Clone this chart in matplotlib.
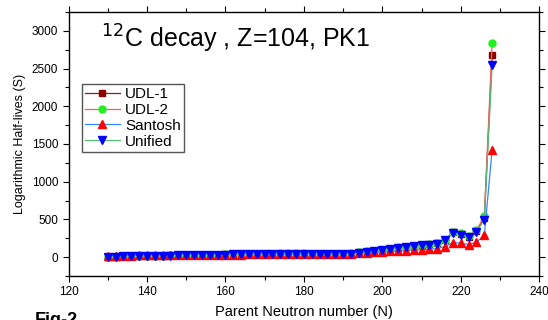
import matplotlib
matplotlib.use("Agg")
import matplotlib.pyplot as plt
from matplotlib.ticker import MultipleLocator

plt.rcParams['font.family'] = ['Liberation Sans', 'DejaVu Sans']

N = list(range(130, 230, 2))
udl1 = [6, 8, 10, 12, 14, 16, 18, 20, 22, 24, 26, 28, 30, 32, 34, 36, 38, 40, 42, 44,
        46, 47, 48, 48, 48, 48, 47, 46, 46, 46, 46,
        48, 62, 72, 85, 98, 111, 125, 138, 151, 160, 169, 185, 230, 328, 310, 272, 350, 520, 2686]
udl2 = [7, 9, 11, 13, 15, 17, 19, 21, 23, 25, 27, 29, 31, 33, 35, 37, 39, 41, 43, 45,
        47, 48, 49, 49, 49, 49, 48, 47, 47, 47, 47,
        50, 66, 75, 88, 101, 114, 128, 141, 154, 163, 172, 189, 233, 335, 317, 277, 357, 541, 2840]
santosh = [18, 19, 20, 21, 22, 23, 24, 25, 26, 27, 28, 29, 30, 31, 32, 33, 34, 35, 36, 37,
           38, 39, 40, 40, 40, 40, 40, 40, 40, 40, 40,
           44, 52, 57, 62, 70, 75, 80, 88, 95, 98, 106, 114, 141, 194, 185, 167, 198, 290, 1427]
unified = [5, 7, 9, 11, 13, 15, 17, 19, 21, 23, 25, 27, 29, 31, 33, 35, 37, 39, 41, 43,
           45, 46, 47, 47, 47, 47, 46, 45, 45, 45, 45,
           46, 60, 70, 82, 95, 108, 121, 134, 147, 156, 164, 180, 222, 318, 300, 262, 330, 497, 2550]

fig = plt.figure(figsize=(5.48, 3.2), dpi=100)
ax = fig.add_axes([0.125, 0.1375, 0.859, 0.825])

ms = 5
ax.plot(N, udl1, color='#8b1a1a', lw=0.9, marker='s', ms=ms, mfc='#8b0000', mec='#8b0000', label='UDL-1')
ax.plot(N, udl2, color='#f06060', lw=0.9, marker='o', ms=ms, mfc='#22ee22', mec='#22ee22', label='UDL-2')
ax.plot(N, santosh, color='#3388ff', lw=0.9, marker='^', ms=ms + 0.5, mfc='#ff0000', mec='#ff0000', label='Santosh')
ax.plot(N, unified, color='#55bb77', lw=0.9, marker='v', ms=ms + 0.5, mfc='#0000ff', mec='#0000ff', label='Unified')

ax.set_xlim(120, 240)
ax.set_ylim(-250, 3250)
ax.xaxis.set_major_locator(MultipleLocator(20))
ax.xaxis.set_minor_locator(MultipleLocator(10))
ax.yaxis.set_major_locator(MultipleLocator(500))
ax.yaxis.set_minor_locator(MultipleLocator(250))
ax.tick_params(which='both', direction='out', top=True, right=True, labelsize=8.5, width=0.8)
ax.tick_params(which='major', length=4)
ax.tick_params(which='minor', length=3)
for s in ax.spines.values():
    s.set_linewidth(1.0)

ax.set_xlabel('Parent Neutron number (N)', fontsize=10.5, labelpad=5)
ax.set_ylabel('Logarithmic Half-lives (S)', fontsize=9, labelpad=4)

ax.text(0.068, 0.96, r'$^{12}$C decay , Z=104, PK1', transform=ax.transAxes,
        fontsize=18, va='top', ha='left')

leg = ax.legend(loc='upper left', bbox_to_anchor=(0.028, 0.727), fontsize=11,
                frameon=True, fancybox=False, edgecolor='#555555', framealpha=1,
                handlelength=2.3, handletextpad=0.35, borderpad=0.2, labelspacing=0.12,
                borderaxespad=0)
leg.get_frame().set_linewidth(1.0)

fig.text(0.063, 0.025, 'Fig-2', fontsize=13, fontweight='bold', ha='left', va='top')

fig.savefig('out.png', dpi=100)
